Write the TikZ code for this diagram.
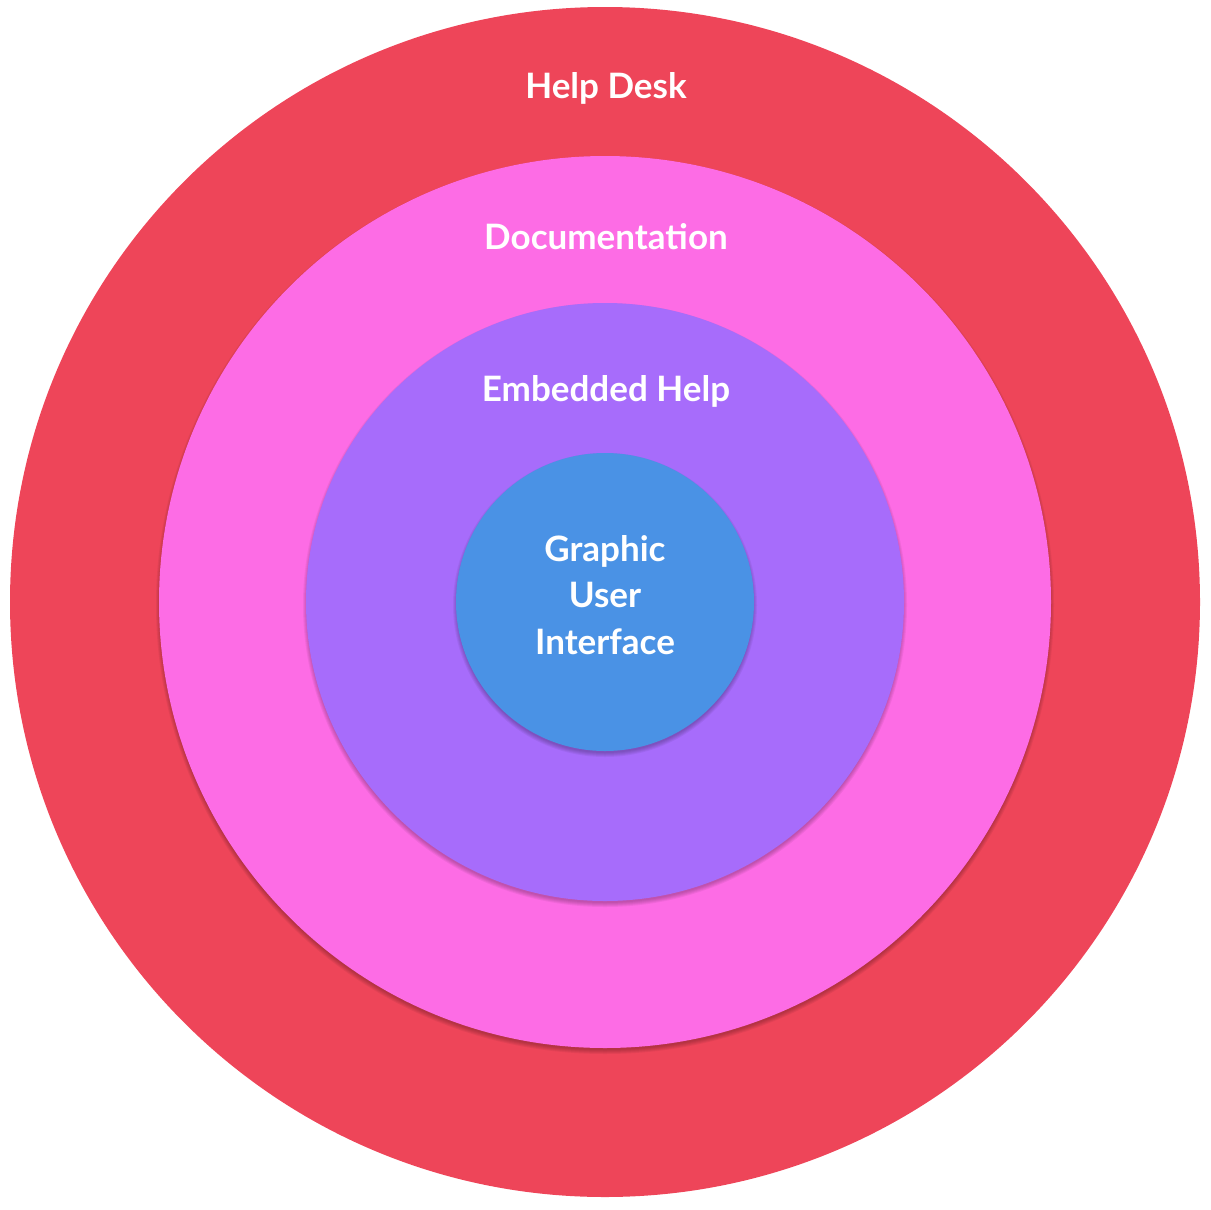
\documentclass[tikz,border=0pt]{standalone}
\usepackage{fontspec}
\setmainfont{Lato}
\definecolor{cRed}{RGB}{238,69,89}
\definecolor{cPink}{RGB}{253,108,229}
\definecolor{cPurple}{RGB}{167,108,251}
\definecolor{cBlue}{RGB}{74,146,229}
\tikzset{
  ring/.style={circle, inner sep=0pt, minimum size=#1},
  lbl/.style={text=white, font=\fontsize{35}{46.5}\selectfont\bfseries, align=center, anchor=base},
}
\newcommand{\softshadow}[2]{%
  \foreach \k in {0,1,2,3,4}{%
    \fill[black, opacity=0.05] ($(#1)+(0,3)$) circle ({#2+3-\k});
  }%
}
\usetikzlibrary{calc}
\begin{document}
\begin{tikzpicture}[x=1pt,y=-1pt]
\useasboundingbox (0,0) rectangle (1210,1210);
\coordinate (c) at (605,602);
\node[ring=1190pt, fill=cRed] (helpdesk) at (c) {};
\softshadow{c}{446}
\node[ring=892pt, fill=cPink] (doc) at (c) {};
\softshadow{c}{299}
\node[ring=598pt, fill=cPurple] (emb) at (c) {};
\softshadow{c}{149}
\node[ring=298pt, fill=cBlue] (gui) at (c) {};
\node[lbl] (t1) at (606,98) {Help Desk};
\node[lbl] (t2) at (606,249) {Documentation};
\node[lbl] (t3) at (606,401) {Embedded Help};
\node[lbl] (t4) at (605,654) {Graphic\\User\\Interface};
\end{tikzpicture}
\end{document}
